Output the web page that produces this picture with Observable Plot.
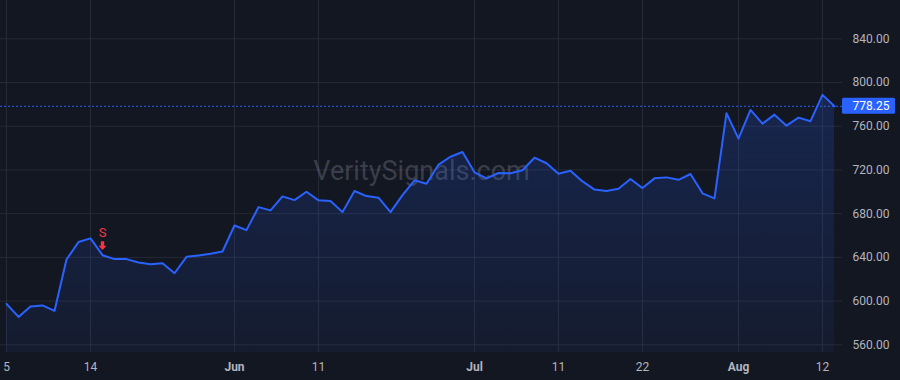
<!DOCTYPE html>
<html>
<head>
<meta charset="utf-8">
<script src="https://cdn.jsdelivr.net/npm/d3@7"></script>
<script src="https://cdn.jsdelivr.net/npm/@observablehq/plot@0.6"></script>
<style>
  html, body { margin: 0; padding: 0; background: #131722; }
  #chart { width: 900px; height: 380px; overflow: hidden; }
</style>
</head>
<body>
<div id="chart"></div>
<script>
// ---- data ----
const dates = [
  "2025-05-05","2025-05-06","2025-05-07","2025-05-08","2025-05-09","2025-05-12","2025-05-13","2025-05-14",
  "2025-05-15","2025-05-16","2025-05-19","2025-05-20","2025-05-21","2025-05-22","2025-05-23","2025-05-27",
  "2025-05-28","2025-05-29","2025-05-30",
  "2025-06-02","2025-06-03","2025-06-04","2025-06-05","2025-06-06","2025-06-09","2025-06-10","2025-06-11",
  "2025-06-12","2025-06-13","2025-06-16","2025-06-17","2025-06-18","2025-06-20","2025-06-23","2025-06-24",
  "2025-06-25","2025-06-26","2025-06-27","2025-06-30",
  "2025-07-01","2025-07-02","2025-07-03","2025-07-07","2025-07-08","2025-07-09","2025-07-10","2025-07-11",
  "2025-07-14","2025-07-15","2025-07-16","2025-07-17","2025-07-18","2025-07-21","2025-07-22","2025-07-23",
  "2025-07-24","2025-07-25","2025-07-28","2025-07-29","2025-07-30","2025-07-31",
  "2025-08-01","2025-08-04","2025-08-05","2025-08-06","2025-08-07","2025-08-08","2025-08-11","2025-08-12",
  "2025-08-13"
];
const closes = [
  597.4, 585.5, 595.0, 596.0, 591.0, 638.0, 654.0, 657.4,
  642.0, 638.4, 638.4, 635.3, 633.8, 634.7, 625.5, 640.5,
  641.8, 643.3, 645.4,
  669.2, 664.9, 686.0, 683.0, 695.8, 692.4, 700.0, 692.2,
  691.5, 681.4, 700.7, 696.1, 694.6, 681.4, 697.0, 710.5,
  707.4, 724.8, 732.1, 736.4,
  717.8, 712.3, 717.2, 716.9, 719.7, 731.2, 726.1, 716.6,
  719.3, 709.5, 702.0, 700.7, 702.8, 711.7, 703.4, 712.3,
  713.2, 711.0, 716.3, 698.6, 694.0, 771.9,
  748.6, 774.9, 762.4, 770.6, 760.5, 767.9, 764.6, 788.7,
  778.25
];
const yTicks = [560, 600, 640, 680, 720, 760, 800, 840];
const dayTicks = ["2025-05-05","2025-05-14","2025-06-11","2025-07-11","2025-07-22","2025-08-12"];
const dayLabels = ["5","14","11","11","22","12"];
const monthTicks = ["2025-06-02","2025-07-01","2025-08-01"];
const monthLabels = ["Jun","Jul","Aug"];
const signalDates = ["2025-05-15"];
const signalLabels = ["S"];
const lastPrice = 778.25;
const watermark = "VeritySignals.com";

// ---- build ----
const data = dates.map((d, i) => ({date: d, close: closes[i]}));
const signals = signalDates.map((d, i) => ({date: d, close: closes[dates.indexOf(d)], label: signalLabels[i]}));

const W = 900, H = 380;
const mL = 0, mR = 58, mT = 0, mB = 28;
const yRange = [344.3, 38.3];
const yDomain = [560, 840];
const bottomY = H - mB;
const areaBase = yDomain[0] - (bottomY - yRange[0]) * (yDomain[1] - yDomain[0]) / (yRange[0] - yRange[1]);

const FONT = "Roboto, 'Liberation Sans', sans-serif";
const TXT = "#b2b5be";
const BLUE = "#2962ff";
const GRID = "#262a36";

const arrowSymbol = {
  draw(ctx) {
    ctx.moveTo(-1.7, -4.4);
    ctx.lineTo(1.7, -4.4);
    ctx.lineTo(1.7, 0);
    ctx.lineTo(4, 0);
    ctx.lineTo(0, 4.4);
    ctx.lineTo(-4, 0);
    ctx.lineTo(-1.7, 0);
    ctx.closePath();
  }
};

const defsMark = () => {
  const defs = d3.create("svg:defs");
  const g = defs.append("linearGradient")
    .attr("id", "areaGrad").attr("x1", 0).attr("y1", 0).attr("x2", 0).attr("y2", 1);
  g.append("stop").attr("offset", "0%").attr("stop-color", BLUE).attr("stop-opacity", 0.2);
  g.append("stop").attr("offset", "100%").attr("stop-color", BLUE).attr("stop-opacity", 0.06);
  return defs.node();
};

const priceBox = (index, scales, values, dimensions) => {
  const y = scales.y(lastPrice);
  const x0 = dimensions.width - dimensions.marginRight;
  return d3.create("svg:rect")
    .attr("x", x0).attr("y", y - 8).attr("width", 53).attr("height", 16)
    .attr("rx", 1.5)
    .attr("fill", BLUE).node();
};

const plot = Plot.plot({
  width: W, height: H,
  marginLeft: mL, marginRight: mR, marginTop: mT, marginBottom: mB,
  style: {background: "#131722", fontFamily: FONT, overflow: "visible"},
  x: {type: "point", domain: dates, range: [5, 835], padding: 0},
  y: {type: "linear", domain: yDomain, range: yRange},
  marks: [
    defsMark,
    Plot.gridY(yTicks, {stroke: GRID, strokeOpacity: 1}),
    Plot.gridX([...dayTicks, ...monthTicks], {stroke: GRID, strokeOpacity: 1}),
    Plot.text([watermark], {frameAnchor: "middle", text: d => d, fontSize: 27, fill: "#b2b5be", fillOpacity: 0.25, dy: -5}),
    Plot.areaY(data, {x: "date", y1: areaBase, y2: "close", fill: "url(#areaGrad)", curve: "linear"}),
    Plot.lineY(data, {x: "date", y: "close", stroke: BLUE, strokeWidth: 2, curve: "linear"}),
    Plot.ruleY([lastPrice], {stroke: BLUE, strokeWidth: 1, strokeDasharray: "2,2"}),
    Plot.axisY(yTicks, {anchor: "right", tickSize: 0, tickPadding: 10, tickFormat: d3.format(".2f"),
      fontSize: 12, fill: TXT, label: null}),
    priceBox,
    Plot.text([lastPrice], {y: d => d, frameAnchor: "right", dx: 10, textAnchor: "start",
      text: d => d3.format(".2f")(d), fontSize: 12, fill: "#ffffff"}),
    Plot.axisX(dayTicks, {anchor: "bottom", tickSize: 0, tickPadding: 10,
      tickFormat: d => dayLabels[dayTicks.indexOf(d)], fontSize: 12, fill: TXT, label: null}),
    Plot.axisX(monthTicks, {anchor: "bottom", tickSize: 0, tickPadding: 10,
      tickFormat: d => monthLabels[monthTicks.indexOf(d)], fontSize: 12, fontWeight: "bold", fill: TXT, label: null}),
    Plot.dot(signals, {x: "date", y: "close", dy: -9.5, symbol: arrowSymbol, r: 4, fill: "#f23645", stroke: "none"}),
    Plot.text(signals, {x: "date", y: "close", text: "label", dy: -22.5, fontSize: 13, fill: "#f23645"})
  ]
});

document.getElementById("chart").appendChild(plot);
</script>
</body>
</html>
